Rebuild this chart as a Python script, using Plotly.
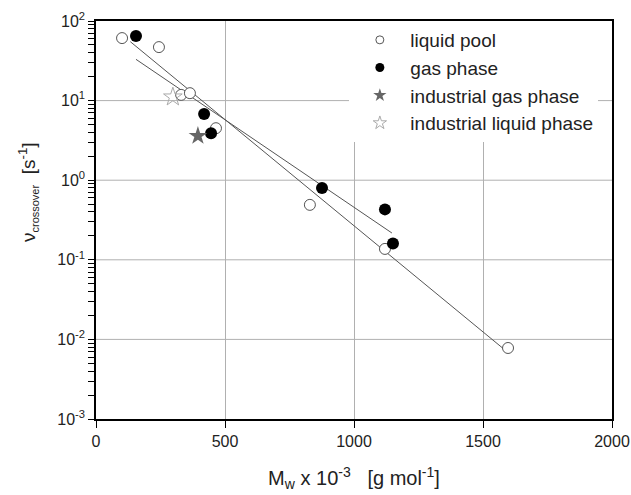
import plotly.graph_objects as go

# Crossover frequency vs. weight-average molar mass
liquid_pool_mw = [101, 244, 330, 364, 465, 829, 1120, 1597]
liquid_pool_nu = [61, 47, 11.8, 12.4, 4.5, 0.49, 0.137, 0.0078]

gas_phase_mw = [155, 419, 446, 876, 1120, 1151]
gas_phase_nu = [65, 6.8, 3.9, 0.80, 0.43, 0.16]

industrial_gas_mw = [395]
industrial_gas_nu = [3.6]

industrial_liquid_mw = [298]
industrial_liquid_nu = [11.1]

# Regression lines (end points)
fit_liquid_mw = [133, 1580]
fit_liquid_nu = [55, 0.0076]
fit_gas_mw = [155, 1147]
fit_gas_nu = [33, 0.217]

x_ticks = [0, 500, 1000, 1500, 2000]
y_major = [1e-3, 1e-2, 1e-1, 1e0, 1e1, 1e2]
y_major_text = ["10<sup>-3</sup>", "10<sup>-2</sup>", "10<sup>-1</sup>",
                "10<sup>0</sup>", "10<sup>1</sup>", "10<sup>2</sup>"]
y_minor = [m * 10.0 ** e for e in range(-3, 2) for m in range(2, 10)]

FONT = "Liberation Sans, Arial, sans-serif"
TXT = "#222222"
GRID = "#b0b0b0"
fig = go.Figure()

# horizontal grid at the decades
for v in y_major[1:-1]:
    fig.add_shape(type="line", xref="paper", yref="y", x0=0, x1=1, y0=v, y1=v,
                  line=dict(color=GRID, width=1), layer="below")

fig.add_trace(go.Scatter(x=fit_liquid_mw, y=fit_liquid_nu, mode="lines",
                         line=dict(color="#555555", width=1), showlegend=False))
fig.add_trace(go.Scatter(x=fit_gas_mw, y=fit_gas_nu, mode="lines",
                         line=dict(color="#555555", width=1), showlegend=False))

series = [
    ("liquid pool", liquid_pool_mw, liquid_pool_nu,
     dict(symbol="circle", size=11, color="white", line=dict(color="#555555", width=1)),
     dict(symbol="circle", size=8, color="white", line=dict(color="#555555", width=1))),
    ("gas phase", gas_phase_mw, gas_phase_nu,
     dict(symbol="circle", size=12, color="black", line=dict(width=0)),
     dict(symbol="circle", size=9, color="black", line=dict(width=0))),
    ("industrial gas phase", industrial_gas_mw, industrial_gas_nu,
     dict(symbol="star", size=14, color="#666666", line=dict(width=0)),
     dict(symbol="star", size=10, color="#666666", line=dict(width=0))),
    ("industrial liquid phase", industrial_liquid_mw, industrial_liquid_nu,
     dict(symbol="star-open", size=14, color="#aaaaaa", line=dict(color="#aaaaaa", width=1)),
     dict(symbol="star-open", size=10, color="#aaaaaa", line=dict(color="#aaaaaa", width=1))),
]

for name, xs, ys, mk, legend_mk in series:
    fig.add_trace(go.Scatter(x=xs, y=ys, mode="markers", name=name,
                             marker=mk, showlegend=False))
    # legend entry with a smaller symbol
    fig.add_trace(go.Scatter(x=[None], y=[None], mode="markers", name=name,
                             marker=legend_mk))

axis_common = dict(showline=True, linecolor="black", linewidth=1.5, mirror=True,
                   ticks="outside", tickcolor="black", tickwidth=1, zeroline=False,
                   tickfont=dict(family=FONT, size=16, color=TXT))

# decade labels plus unlabelled minor ticks
y_tickvals = y_major + y_minor
y_ticktext = y_major_text + [""] * len(y_minor)

fig.update_layout(
    xaxis=dict(range=[0, 2000], tickvals=x_ticks, ticklen=7,
               showgrid=True, gridcolor=GRID, gridwidth=1,
               title=dict(text="M<sub>w</sub> x 10<sup>-3</sup>&nbsp;&nbsp; [g mol<sup>-1</sup>]",
                          font=dict(family=FONT, size=20, color=TXT), standoff=22),
               **axis_common),
    yaxis=dict(type="log", range=[-3, 2], tickvals=y_tickvals, ticktext=y_ticktext,
               ticklen=6, showgrid=False, **axis_common),
    width=631, height=495,
    margin=dict(l=96, r=19, t=21, b=76, autoexpand=False),
    plot_bgcolor="white", paper_bgcolor="white",
    legend=dict(x=0.491, y=1.0, xanchor="left", yanchor="top",
                bgcolor="white", borderwidth=0, itemwidth=51,
                font=dict(family=FONT, size=19, color=TXT),
                traceorder="normal"),
)

# rotated y-axis title
fig.add_annotation(
    text="ν<sub><span style='font-size:11px'>crossover</span></sub>&nbsp; [s<sup>-1</sup>]",
    xref="paper", yref="paper", x=-0.132, y=0.57, xanchor="center", yanchor="middle",
    textangle=-90, showarrow=False, font=dict(family=FONT, size=19, color=TXT))

fig.write_html("out.html")
